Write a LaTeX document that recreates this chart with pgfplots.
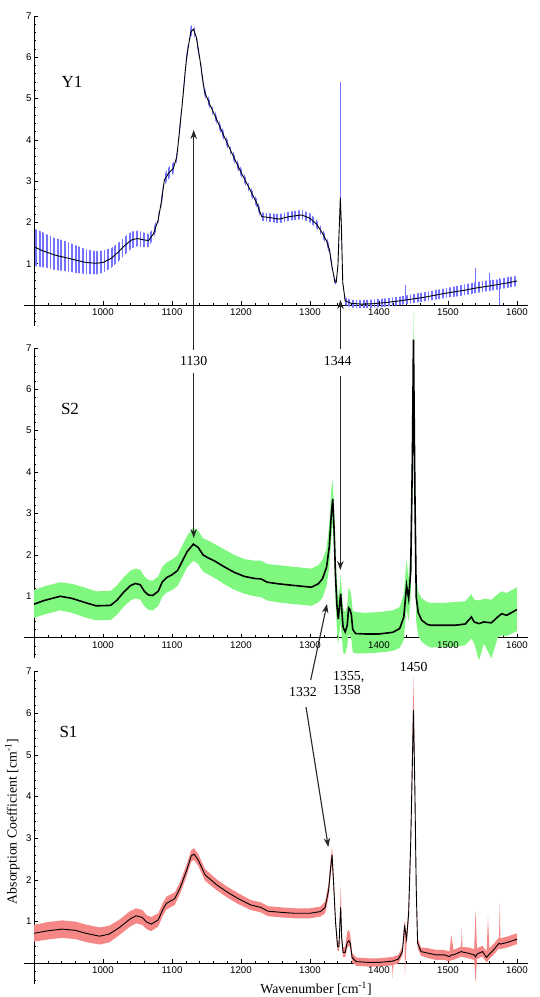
\documentclass[border=0pt]{standalone}
\usepackage{fontspec}
\setmainfont{Liberation Serif}
\newfontfamily\tickfont{Liberation Sans}
\usepackage{pgfplots}
\usepackage{pgfplotstable}
\pgfplotsset{compat=1.18}
\usepgfplotslibrary{fillbetween}
\usetikzlibrary{arrows.meta,patterns.meta}

\definecolor{bluenoise}{RGB}{115,115,255}
\definecolor{greenband}{RGB}{128,248,128}
\definecolor{redband}{RGB}{245,135,135}

% x, smoothed curve, lower and upper edge of the raw (noisy) trace
\pgfplotstableread{
x y lo hi
900 1.41 0.95 1.85
910 1.33 0.92 1.78
920 1.27 0.90 1.70
930 1.21 0.85 1.62
945 1.15 0.82 1.55
960 1.09 0.78 1.45
975 1.03 0.75 1.35
990 1.01 0.74 1.30
1000 1.03 0.78 1.32
1012 1.13 0.90 1.38
1022 1.28 1.05 1.50
1032 1.45 1.22 1.66
1042 1.58 1.38 1.78
1050 1.61 1.42 1.80
1058 1.58 1.40 1.76
1066 1.56 1.40 1.72
1073 1.72 1.60 1.85
1080 2.06 1.95 2.18
1085 2.54 2.42 2.66
1089 3.03 2.90 3.16
1095 3.19 3.05 3.33
1102 3.31 3.18 3.45
1107 3.59 3.48 3.70
1114 4.72 4.62 4.82
1121 5.97 5.87 6.07
1127 6.60 6.50 6.75
1131 6.68 6.55 6.82
1135 6.50 6.40 6.62
1140 6.00 5.90 6.12
1147 5.17 5.07 5.27
1155 4.85 4.75 4.95
1163 4.56 4.46 4.66
1175 4.10 4.00 4.20
1187 3.67 3.57 3.77
1199 3.25 3.15 3.35
1211 2.86 2.76 2.96
1223 2.46 2.36 2.56
1230 2.14 2.04 2.24
1240 2.12 2.02 2.22
1255 2.08 1.98 2.20
1270 2.14 2.04 2.26
1288 2.18 2.08 2.30
1300 2.10 2.00 2.22
1310 1.95 1.85 2.05
1318 1.74 1.64 1.84
1324 1.55 1.45 1.65
1328 1.35 1.25 1.45
1332 0.93 0.85 1.00
1336 0.56 0.50 0.62
1338 0.55 0.50 0.62
1340.5 0.95 0.90 1.00
1342.5 1.90 1.80 2.00
1344 2.60 2.50 2.70
1345.5 1.90 1.80 2.00
1347.5 0.55 0.50 0.62
1351 0.10 0.00 0.18
1360 0.04 -0.06 0.12
1375 0.02 -0.08 0.12
1390 0.03 -0.07 0.13
1410 0.06 -0.04 0.16
1430 0.10 0.00 0.20
1455 0.16 0.06 0.28
1470 0.20 0.10 0.32
1482 0.24 0.13 0.36
1495 0.28 0.17 0.40
1510 0.32 0.20 0.45
1525 0.36 0.24 0.50
1540 0.41 0.29 0.55
1560 0.46 0.34 0.60
1574 0.50 0.38 0.62
1588 0.54 0.42 0.68
1600 0.58 0.46 0.70
}\yone

% isolated spikes of the raw Y1 trace: x, bottom, top
\pgfplotstableread{
x lo hi
1344 2.5 5.40
1438 0.1 0.48
1540 0.4 0.90
1560 0.4 0.77
1575 0.0 0.66
}\yspikes

\pgfplotstableread{
x y lo hi
900 0.81 0.48 1.15
915 0.90 0.56 1.24
938 1.00 0.66 1.34
955 0.95 0.60 1.30
972 0.86 0.50 1.22
990 0.77 0.42 1.12
1011 0.78 0.43 1.13
1020 0.90 0.55 1.26
1030 1.10 0.75 1.46
1040 1.26 0.90 1.62
1047 1.31 0.95 1.67
1054 1.28 0.92 1.64
1060 1.12 0.76 1.48
1066 1.03 0.67 1.39
1072 1.02 0.66 1.38
1080 1.12 0.76 1.48
1086 1.35 0.99 1.71
1092 1.45 1.09 1.81
1100 1.52 1.15 1.89
1108 1.62 1.25 1.99
1115 1.85 1.47 2.23
1122 2.08 1.70 2.46
1131 2.26 1.86 2.66
1138 2.18 1.78 2.58
1145 2.00 1.60 2.40
1152 1.93 1.53 2.35
1161 1.86 1.45 2.27
1175 1.72 1.30 2.14
1190 1.58 1.16 2.00
1205 1.48 1.06 1.90
1220 1.43 1.00 1.86
1229 1.42 0.98 1.86
1238 1.34 0.90 1.78
1255 1.30 0.85 1.75
1272 1.27 0.82 1.72
1290 1.24 0.79 1.69
1302 1.22 0.77 1.67
1312 1.30 0.85 1.75
1318 1.42 0.96 1.88
1324 1.70 1.25 2.15
1328 2.20 1.70 2.75
1331 3.00 2.40 3.60
1333 3.35 2.80 3.80
1335 2.60 2.00 3.10
1337 1.50 0.90 2.00
1339 0.80 0.20 1.35
1341 0.45 -0.15 0.95
1343 0.80 0.15 1.20
1344.5 1.06 0.40 1.55
1346 0.70 0.05 1.15
1348 0.25 -0.35 0.70
1351 0.14 -0.40 0.62
1354 0.30 -0.20 0.75
1356 0.72 0.10 1.20
1358 0.68 0.05 1.15
1360 0.55 -0.05 1.00
1362 0.20 -0.35 0.65
1366 0.10 -0.38 0.62
1380 0.09 -0.38 0.60
1400 0.09 -0.36 0.62
1420 0.13 -0.32 0.66
1430 0.22 -0.25 0.74
1436 0.50 -0.05 1.05
1440 1.26 0.70 1.90
1443 0.95 0.40 1.40
1446 1.60 1.00 2.30
1448.5 4.42 3.60 5.40
1450 7.20 6.30 7.90
1452 3.60 2.80 4.50
1454 0.98 0.40 1.50
1457 0.60 0.05 1.10
1462 0.42 -0.10 0.95
1470 0.32 -0.20 0.86
1476 0.30 -0.24 0.84
1490 0.30 -0.22 0.84
1510 0.30 -0.22 0.86
1525 0.33 -0.18 0.88
1534 0.50 -0.02 1.05
1538 0.38 -0.14 0.92
1545 0.34 -0.55 0.90
1552 0.38 -0.14 0.94
1563 0.36 -0.50 0.92
1572 0.50 0.00 1.05
1578 0.58 0.06 1.12
1585 0.54 0.04 1.08
1600 0.68 0.16 1.22
}\stwo

\pgfplotstableread{
x y lo hi
900 0.72 0.52 0.92
920 0.78 0.57 0.99
941 0.82 0.61 1.03
960 0.79 0.58 1.00
975 0.72 0.51 0.93
995 0.65 0.45 0.86
1009 0.70 0.50 0.90
1024 0.86 0.68 1.05
1039 1.06 0.88 1.25
1048 1.14 0.96 1.32
1057 1.10 0.92 1.28
1063 0.99 0.82 1.16
1070 0.94 0.77 1.11
1080 1.04 0.88 1.20
1087 1.30 1.15 1.46
1092 1.44 1.29 1.60
1104 1.55 1.40 1.70
1112 1.82 1.68 1.96
1121 2.22 2.08 2.36
1128 2.58 2.44 2.72
1132 2.62 2.48 2.76
1138 2.48 2.34 2.62
1148 2.12 1.98 2.26
1165 1.88 1.75 2.01
1180 1.71 1.58 1.84
1195 1.56 1.43 1.69
1214 1.40 1.28 1.52
1229 1.34 1.22 1.46
1239 1.25 1.13 1.37
1260 1.22 1.10 1.34
1278 1.20 1.08 1.32
1300 1.20 1.08 1.32
1315 1.24 1.12 1.36
1322 1.34 1.20 1.48
1327 1.76 1.60 1.92
1330 2.30 2.12 2.50
1332 2.60 2.42 2.80
1334 2.00 1.85 2.20
1337 1.00 0.88 1.12
1340 0.40 0.30 0.52
1342 0.40 0.30 0.52
1343.5 1.00 0.88 1.20
1344.5 1.34 1.20 1.88
1346 0.60 0.48 0.75
1348 0.26 0.15 0.38
1351 0.26 0.15 0.40
1354 0.50 0.38 0.75
1356.5 0.54 0.42 0.80
1358.5 0.48 0.36 0.68
1361 0.14 0.03 0.25
1367 0.04 -0.06 0.14
1385 0.02 -0.08 0.12
1400 0.02 -0.08 0.12
1419 0.05 -0.05 0.15
1420 0.05 -0.36 0.15
1421 0.06 -0.04 0.16
1428 0.10 0.00 0.20
1434 0.28 0.18 0.40
1437 0.88 0.75 1.00
1437.6 0.85 -0.30 1.00
1440 0.58 0.48 0.70
1443 1.20 1.05 1.40
1446 2.90 2.70 3.20
1450 6.08 5.80 6.88
1452 4.20 4.00 4.50
1454 1.80 1.60 2.00
1456 0.48 0.36 0.60
1461 0.28 0.18 0.38
1472 0.24 0.12 0.36
1483 0.20 0.08 0.32
1495 0.20 0.08 0.32
1502 0.16 0.04 0.28
1505 0.20 0.08 0.68
1508 0.20 0.08 0.32
1519 0.28 0.16 0.40
1520 0.28 0.16 0.84
1521 0.27 0.15 0.39
1530 0.24 0.12 0.38
1538 0.20 0.08 0.34
1540 0.15 -0.48 1.28
1542 0.22 0.10 0.36
1550 0.28 0.16 0.42
1556 0.14 0.02 0.28
1558 0.18 0.06 1.12
1560 0.22 0.10 0.36
1566 0.32 0.20 0.46
1574 0.48 0.36 0.62
1575 0.47 0.35 1.44
1576 0.46 0.34 0.60
1586 0.50 0.38 0.64
1600 0.58 0.46 0.72
}\sone

\pgfplotsset{
  panel/.style={
    scale only axis, width=494pt,
    xmin=900, xmax=1616, ymin=-0.5, ymax=7,
    axis x line*=middle, axis y line*=left,
    anchor=south west, clip=false,
    xtick={1000,1100,...,1600}, minor xtick={900,920,...,1600},
    ytick={1,...,7}, minor ytick={-0.4,-0.2,...,6.8},
    tick align=inside,
    major tick length=4pt, minor tick length=2.3pt,
    tick style={black, line width=0.5pt},
    axis line style={black, line width=0.7pt},
    ticklabel style={font=\tickfont\fontsize{9.7}{10}\selectfont},
    /pgf/number format/assume math mode=true,
    /pgf/number format/1000 sep={},
    yticklabel style={xshift=1pt},
  },
}

\begin{document}
\begin{tikzpicture}

% Y1
\begin{axis}[panel, at={(34pt,671.35pt)}, height=309.75pt]
  \addplot[name path=yhi, draw=none] table[x=x,y=hi]{\yone};
  \addplot[name path=ylo, draw=none] table[x=x,y=lo]{\yone};
  \addplot[draw=none, pattern={Lines[angle=90,distance=3.6pt,line width=1.8pt]},
    pattern color=bluenoise] fill between[of=yhi and ylo];
  \addplot[bluenoise, line width=0.9pt, draw=none, mark=none,
    error bars/.cd, y dir=plus, y explicit, error bar style={bluenoise, line width=0.9pt},
    error mark=none] table[x=x, y=lo, y error expr=\thisrow{hi}-\thisrow{lo}]{\yspikes};
  \addplot[black, line width=0.9pt] table[x=x,y=y]{\yone};
  \draw[line width=0.7pt] (axis cs:886,0) -- (axis cs:900,0);
\end{axis}

% S2
\begin{axis}[panel, at={(34pt,338.6pt)}, height=310.5pt]
  \addplot[name path=ghi, draw=none] table[x=x,y=hi]{\stwo};
  \addplot[name path=glo, draw=none] table[x=x,y=lo]{\stwo};
  \addplot[draw=none, fill=greenband] fill between[of=ghi and glo];
  \addplot[black, line width=1.6pt] table[x=x,y=y]{\stwo};
  \draw[line width=0.7pt] (axis cs:886,0) -- (axis cs:900,0);
\end{axis}

% S1
\begin{axis}[panel, at={(34pt,12.9pt)}, height=312.45pt]
  \addplot[name path=rhi, draw=none] table[x=x,y=hi]{\sone};
  \addplot[name path=rlo, draw=none] table[x=x,y=lo]{\sone};
  \addplot[draw=none, fill=redband] fill between[of=rhi and rlo];
  \addplot[black, line width=0.9pt] table[x=x,y=y]{\sone};
  \draw[line width=0.7pt] (axis cs:886,0) -- (axis cs:900,0);
\end{axis}

% panel names
\node[font=\fontsize{17}{18}\selectfont] at (72pt,915pt) {Y1};
\node[font=\fontsize{17}{18}\selectfont] at (70pt,588.5pt) {S2};
\node[font=\fontsize{17}{18}\selectfont] at (68.5pt,265.3pt) {S1};

% peak labels and arrows
\tikzset{pk/.style={black!85, line width=1.1pt, -{Stealth[length=9pt,width=6.5pt]}}}
\node[font=\fontsize{13.8}{15}\selectfont] at (193.7pt,636pt) {1130};
\node[font=\fontsize{13.8}{15}\selectfont] at (337.7pt,636pt) {1344};
\node[font=\fontsize{13.8}{15}\selectfont] at (303pt,304.5pt) {1332};
\node[font=\fontsize{13.8}{15}\selectfont, anchor=west, align=left, inner sep=0pt]
  at (333pt,313.5pt) {1355,\\[-1pt]1358};
\node[font=\fontsize{13.8}{15}\selectfont] at (413.7pt,330pt) {1450};
\draw[pk] (193.7pt,647pt) -- (193.7pt,867pt);
\draw[pk] (193.7pt,624pt) -- (193.7pt,459pt);
\draw[pk] (340.5pt,648pt) -- (340.5pt,697pt);
\draw[pk] (340.3pt,621pt) -- (340.3pt,427pt);
\draw[pk] (310.7pt,317pt) -- (327pt,393pt);
\draw[pk] (306pt,290pt) -- (328.3pt,150pt);

% axis titles
\node[font=\fontsize{13.8}{15}\selectfont] at (316pt,8pt) {Wavenumber [cm\textsuperscript{-1}]};
\node[font=\fontsize{13.8}{15}\selectfont, rotate=90] at (12.3pt,175.5pt) {Absorption Coefficient [cm\textsuperscript{-1}]};

\pgfresetboundingbox
\useasboundingbox (0pt,0pt) rectangle (540pt,997pt);
\end{tikzpicture}
\end{document}
